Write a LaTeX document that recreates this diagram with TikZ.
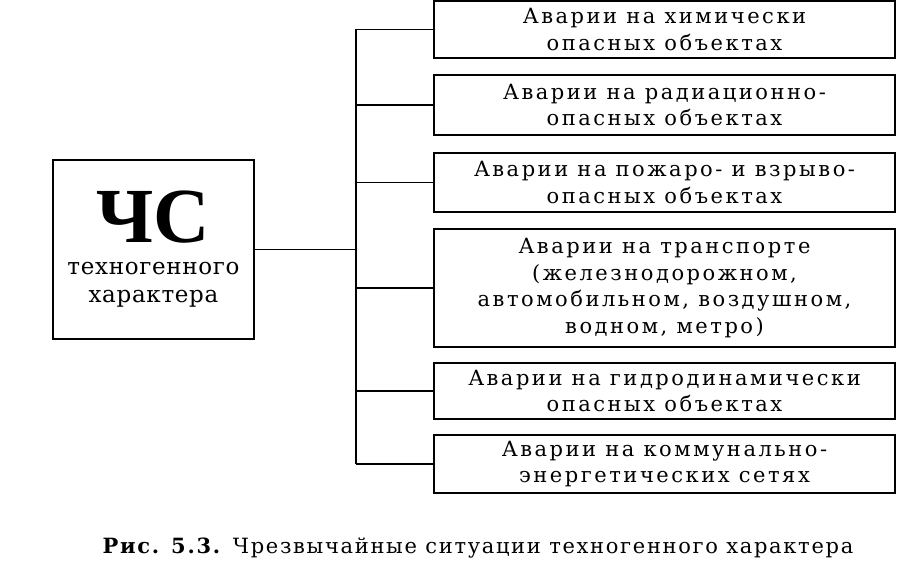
\documentclass[tikz,border=0pt]{standalone}
\usepackage{fontspec}
\setmainfont{Liberation Serif}
\newfontfamily\spaced{DejaVu Serif}[LetterSpace=12]
\newfontfamily\capfont{DejaVu Serif}[LetterSpace=8]
\newfontfamily\slightly{DejaVu Serif}[LetterSpace=3]
\begin{document}
\begin{tikzpicture}[x=1pt,y=-1pt,
  box/.style={draw, line width=1.2pt, align=center, inner sep=0pt, font=\spaced\fontsize{21}{26.5}\selectfont},
  avbox/.style={box, minimum width=461pt}]
\useasboundingbox (0,0) rectangle (897,583);
\node[box, minimum width=201pt, minimum height=179pt, font=\slightly\fontsize{23}{28}\selectfont] (chs) at (153.5,249.5){{\rmfamily\fontsize{78}{60}\selectfont\bfseries ЧС}\\[4pt]техногенного\\характера};
\node[avbox, minimum height=57pt] (av1) at (664.5,29.5){Аварии на химически\\опасных объектах};
\node[avbox, minimum height=60pt] (av2) at (664.5,105){Аварии на радиационно-\\опасных объектах};
\node[avbox, minimum height=59pt] (av3) at (664.5,182.5){Аварии на пожаро- и взрыво-\\опасных объектах};
\node[avbox, minimum height=118pt] (av4) at (664.5,288){Аварии на транспорте\\(железнодорожном,\\автомобильном, воздушном,\\водном, метро)};
\node[avbox, minimum height=56pt] (av5) at (664.5,391){Аварии на гидродинамически\\опасных объектах};
\node[avbox, minimum height=58pt] (av6) at (664.5,464){Аварии на коммунально-\\энергетических сетях};
\coordinate (hub) at (356,249.5);
\draw[line width=1.2pt](chs.east) -- (hub);
\draw[line width=1.2pt](hub |- av1.west) -- (hub |- av6.west);
\draw[line width=1.2pt](hub |- av1.west) -- (av1.west);
\draw[line width=1.2pt](hub |- av2.west) -- (av2.west);
\draw[line width=1.2pt](hub |- av3.west) -- (av3.west);
\draw[line width=1.2pt](hub |- av4.west) -- (av4.west);
\draw[line width=1.2pt](hub |- av5.west) -- (av5.west);
\draw[line width=1.2pt](hub |- av6.west) -- (av6.west);
\node[font=\capfont\fontsize{21}{27}\selectfont] (cap) at (478,548){\textbf{Рис. 5.3.} Чрезвычайные ситуации техногенного характера};

\end{tikzpicture}
\end{document}
